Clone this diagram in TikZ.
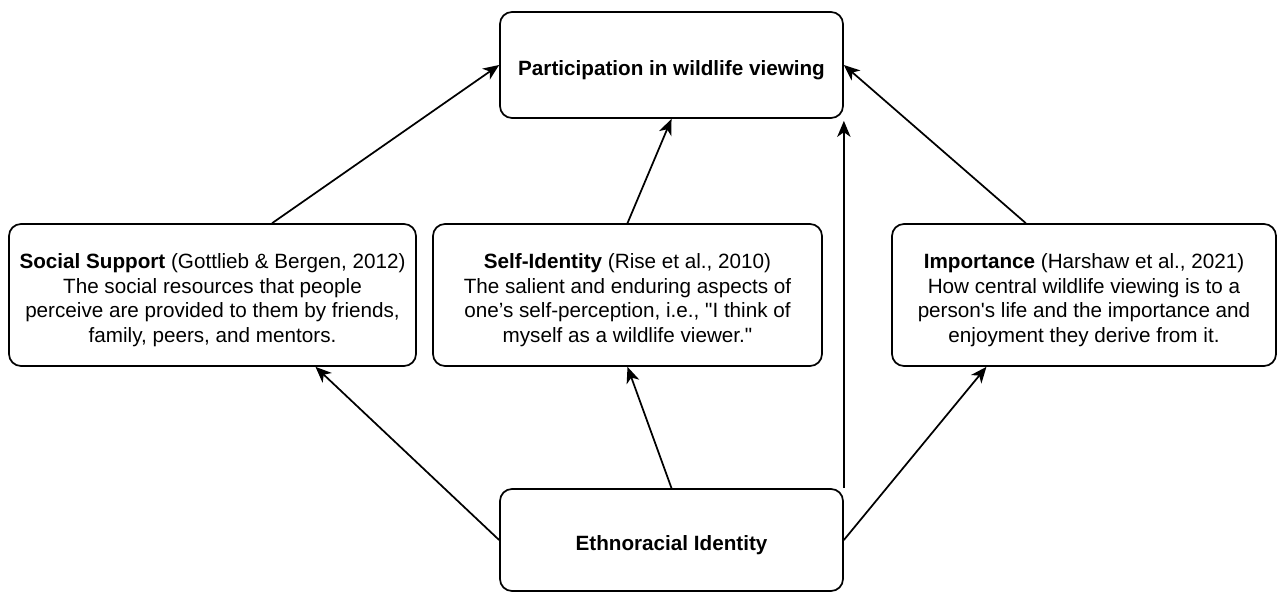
\documentclass[tikz,border=0pt]{standalone}
\usepackage{fontspec}
\newfontfamily\arial{Liberation Sans}
\usetikzlibrary{arrows.meta,calc}
\newcommand{\lowtext}{\rule{0pt}{19pt}}
\tikzset{
  box/.style={draw, line width=1.3pt, rounded corners=9pt, align=center, inner sep=0pt,
    font=\arial\fontsize{15.5}{18.3}\selectfont},
  arr/.style={line width=1.3pt, -{Stealth[length=12pt,width=10pt,inset=3.5pt]}}
}
\begin{document}
\begin{tikzpicture}[x=0.75pt,y=-0.75pt]
\useasboundingbox (0,0) rectangle (1277,592);
\node[box, minimum width=257.25pt, minimum height=79.5pt] (part) at (671.5,65) {\lowtext\bfseries Participation in wildlife viewing};
\node[box, minimum width=257.25pt, minimum height=76.5pt] (ethno) at (671.5,540) {\lowtext\bfseries Ethnoracial Identity};
\node[box, minimum width=305.25pt, minimum height=106.5pt] (social) at (212.5,295)
  {\lowtext\textbf{Social Support} (Gottlieb \& Bergen, 2012)\\The social resources that people\\perceive are provided to them by friends,\\family, peers, and mentors.};
\node[box, minimum width=291.75pt, minimum height=106.5pt] (self) at (627.5,295)
  {\lowtext\textbf{Self-Identity} (Rise et al., 2010)\\The salient and enduring aspects of\\one’s self-perception, i.e., "I think of\\myself as a wildlife viewer."};
\node[box, minimum width=288pt, minimum height=106.5pt] (imp) at (1084,295)
  {\lowtext\textbf{Importance} (Harshaw et al., 2021)\\How central wildlife viewing is to a\\person's life and the importance and\\enjoyment they derive from it.};
\draw[arr] ($(social.north west)!0.646!(social.north east)$) -- (part.west);
\draw[arr] (self.north) -- (part.south);
\draw[arr] ($(imp.north west)!0.349!(imp.north east)$) -- (part.east);
\draw[arr, shorten >=1.5pt] (ethno.north east) -- (part.south east);
\draw[arr] (ethno.west) -- ($(social.south west)!0.752!(social.south east)$);
\draw[arr] (ethno.north) -- (self.south);
\draw[arr] (ethno.east) -- ($(imp.south west)!0.247!(imp.south east)$);
\end{tikzpicture}
\end{document}
